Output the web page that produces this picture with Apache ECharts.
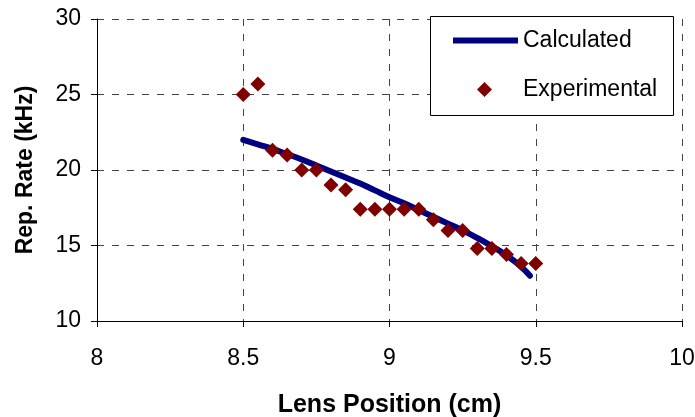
<!DOCTYPE html>
<html>
<head>
<meta charset="utf-8">
<script src="https://cdn.jsdelivr.net/npm/echarts@6/dist/echarts.min.js"></script>
<style>
  html, body { margin: 0; padding: 0; background: #fff; }
  #chart { width: 695px; height: 417px; }
</style>
</head>
<body>
<div id="chart"></div>
<script>
/* Measured data: lens position (cm) vs repetition rate (kHz) */
const expX = [8.5, 8.55, 8.6, 8.65, 8.7, 8.75, 8.8, 8.85, 8.9, 8.95, 9.0, 9.05, 9.1, 9.15, 9.2, 9.25, 9.3, 9.35, 9.4, 9.45, 9.5]
const expY = [25.0, 25.7, 21.3, 21.0, 20.0, 20.0, 19.0, 18.7, 17.4, 17.4, 17.4, 17.4, 17.4, 16.7, 16.0, 16.0, 14.8, 14.8, 14.4, 13.8, 13.8]

/* Model curve */
const calcX = [8.5, 8.55, 8.6, 8.65, 8.7, 8.75, 8.8, 8.85, 8.9, 8.95, 9.0, 9.05, 9.1, 9.15, 9.2, 9.25, 9.3, 9.35, 9.4, 9.45, 9.48]
const calcY = [22.0, 21.7, 21.4, 21.05, 20.7, 20.3, 19.9, 19.5, 19.1, 18.65, 18.2, 17.8, 17.35, 16.9, 16.45, 16.0, 15.5, 14.95, 14.35, 13.6, 13.0]

const xTicks = { min: 8, max: 10, interval: 0.5 }
const yTicks = { min: 10, max: 30, interval: 5 }

const FONT = 'Liberation Sans, Arial, sans-serif'
const chart = echarts.init(document.getElementById('chart'))

const gridDash = { type: [7, 8], color: '#444', width: 1 }
const legendText = { fontSize: 23, color: '#000', fontFamily: FONT }

chart.setOption({
  animation: false,
  textStyle: { fontFamily: FONT },
  grid: { left: 97, right: 13, top: 19, bottom: 96, outerBoundsMode: 'none' },
  /* legend frame, the two legends sit on top of it */
  graphic: [{
    type: 'rect',
    left: 430, top: 16,
    shape: { width: 243, height: 99 },
    style: { fill: '#fff', stroke: '#000', lineWidth: 1 },
    z: 3
  }],
  legend: [
    {
      left: 453, top: 29, padding: 0,
      itemWidth: 65, itemHeight: 6,
      textStyle: legendText,
      data: [{ name: 'Calculated', icon: 'rect' }],
      z: 5
    },
    {
      left: 477, top: 78, padding: 0,
      itemWidth: 15, itemHeight: 15,
      textStyle: Object.assign({ padding: [0, 0, 0, 26] }, legendText),
      data: ['Experimental'],
      z: 5
    }
  ],
  xAxis: {
    type: 'value',
    min: xTicks.min, max: xTicks.max, interval: xTicks.interval,
    name: 'Lens Position (cm)',
    nameLocation: 'middle',
    nameGap: 72,
    nameTextStyle: { fontSize: 25, fontWeight: 'bold', color: '#000', fontFamily: FONT },
    axisLine: { lineStyle: { color: '#000', width: 1 } },
    axisTick: { show: true, length: 6, lineStyle: { color: '#000' } },
    axisLabel: { fontSize: 23, color: '#000', margin: 26, fontFamily: FONT },
    splitLine: { show: true, lineStyle: gridDash }
  },
  yAxis: {
    type: 'value',
    min: yTicks.min, max: yTicks.max, interval: yTicks.interval,
    name: 'Rep. Rate (kHz)',
    nameLocation: 'middle',
    nameGap: 60,
    nameTextStyle: { fontSize: 23, fontWeight: 'bold', color: '#000', fontFamily: FONT },
    axisLine: { show: true, lineStyle: { color: '#000', width: 1 } },
    axisTick: { show: true, length: 6, lineStyle: { color: '#000' } },
    axisLabel: { fontSize: 23, color: '#000', margin: 16, fontFamily: FONT },
    splitLine: { show: true, lineStyle: gridDash }
  },
  series: [
    {
      name: 'Calculated',
      type: 'line',
      symbol: 'none',
      smooth: true,
      lineStyle: { color: '#000080', width: 6, cap: 'round' },
      itemStyle: { color: '#000080' },
      data: calcX.map((x, i) => [x, calcY[i]]),
      z: 2
    },
    {
      name: 'Experimental',
      type: 'scatter',
      symbol: 'diamond',
      symbolSize: 15,
      itemStyle: { color: '#800000', opacity: 1 },
      data: expX.map((x, i) => [x, expY[i]]),
      z: 3
    }
  ]
})
</script>
</body>
</html>
